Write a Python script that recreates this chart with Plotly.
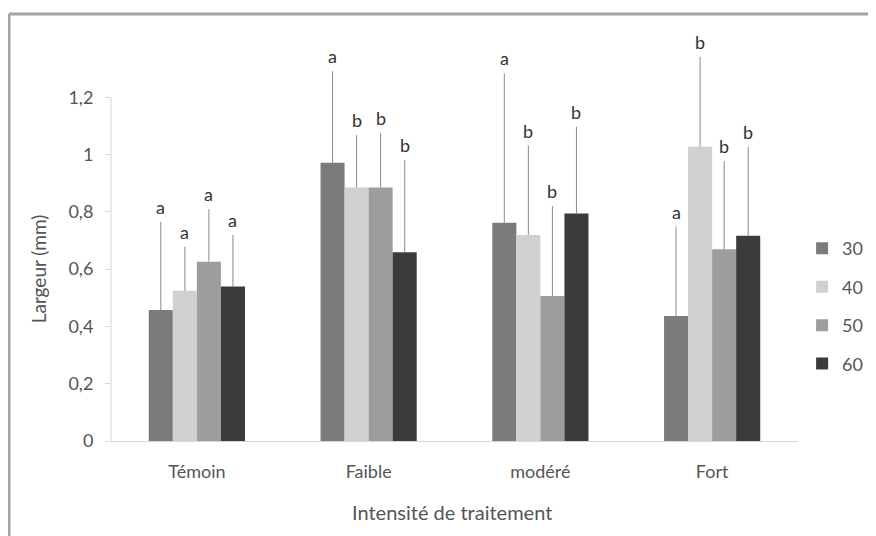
import plotly.graph_objects as go

categories = ["Témoin", "Faible", "modéré", "Fort"]
series_names = ["30", "40", "50", "60"]
values_30 = [0.457, 0.971, 0.762, 0.436]
values_40 = [0.524, 0.885, 0.719, 1.027]
values_50 = [0.626, 0.885, 0.506, 0.669]
values_60 = [0.539, 0.659, 0.794, 0.716]
err_30 = [0.308, 0.320, 0.521, 0.312]
err_40 = [0.154, 0.183, 0.312, 0.314]
err_50 = [0.183, 0.189, 0.314, 0.308]
err_60 = [0.180, 0.322, 0.303, 0.311]
letters_30 = ["a", "a", "a", "a"]
letters_40 = ["a", "b", "b", "b"]
letters_50 = ["a", "b", "b", "b"]
letters_60 = ["a", "b", "b", "b"]
y_tickvals = [0, 0.2, 0.4, 0.6, 0.8, 1.0, 1.2]
y_ticktext = ["0", "0,2", "0,4", "0,6", "0,8", "1", "1,2"]
x_title = "Intensité de traitement"
y_title = "Largeur (mm)"

values = [values_30, values_40, values_50, values_60]
errors = [err_30, err_40, err_50, err_60]
letters = [letters_30, letters_40, letters_50, letters_60]
colors = ["#7b7b7b", "#d0d0d0", "#9d9d9d", "#3b3b3b"]

BARGAP = 0.44
YMAX = 1.4485
FONT = "Lato, 'Open Sans', sans-serif"
TXT = "#555555"

fig = go.Figure()
for k, name in enumerate(series_names):
    fig.add_trace(go.Bar(
        x=categories, y=values[k], name=name,
        marker=dict(color=colors[k], line=dict(width=0)),
        legendgroup=name,
        error_y=dict(type="data", symmetric=False, array=errors[k],
                     arrayminus=[0] * len(categories), width=0,
                     thickness=1, color="#8a8a8a"),
    ))

n = len(series_names)
bw = (1 - BARGAP) / n
annotations = []
for k in range(n):
    for i, cat in enumerate(categories):
        annotations.append(dict(
            x=i + (k - (n - 1) / 2) * bw, y=values[k][i] + errors[k][i],
            xref="x", yref="y", text=letters[k][i], showarrow=False,
            yanchor="bottom", yshift=2,
            font=dict(family=FONT, size=18, color="#333333")))

annotations.append(dict(text=y_title, xref="paper", yref="paper",
                        x=-0.106, y=(max(y_tickvals) / 2) / YMAX, textangle=-90,
                        xanchor="center", yanchor="middle", showarrow=False,
                        font=dict(family=FONT, size=19, color=TXT)))
annotations.append(dict(text=x_title, xref="paper", yref="paper",
                        x=0.496, y=-0.171, xanchor="center", yanchor="middle",
                        showarrow=False,
                        font=dict(family=FONT, size=20, color=TXT)))

# chart border (open at right/bottom as cropped) and y-axis line up to last tick
shapes = [
    dict(type="line", xref="paper", yref="paper", x0=-0.1485, x1=1.3, y0=1.029, y1=1.029,
         line=dict(color="#a3a3a3", width=3)),
    dict(type="line", xref="paper", yref="paper", x0=-0.1485, x1=-0.1485, y0=1.029, y1=-0.4,
         line=dict(color="#a3a3a3", width=3)),
    dict(type="line", xref="paper", yref="y", x0=0, x1=0, y0=0, y1=max(y_tickvals),
         line=dict(color="#d6d6d6", width=1)),
]

fig.update_layout(
    width=876, height=536,
    margin=dict(l=103, r=86, t=18, b=103, autoexpand=False),
    paper_bgcolor="white", plot_bgcolor="white",
    barmode="group", bargap=BARGAP, bargroupgap=0,
    font=dict(family=FONT, color=TXT),
    annotations=annotations, shapes=shapes,
    legend=dict(x=1.006, y=0.325, xanchor="left", yanchor="middle",
                font=dict(size=18, color=TXT), tracegroupgap=12,
                bgcolor="rgba(0,0,0,0)"),
    xaxis=dict(showline=True, linecolor="#d6d6d6", linewidth=1, ticks="",
               ticklabelstandoff=14, automargin=False,
               tickfont=dict(size=18, color=TXT)),
    yaxis=dict(range=[0, YMAX], tickvals=y_tickvals, ticktext=y_ticktext,
               showgrid=False, zeroline=False, showline=False,
               ticks="outside", ticklen=5, tickcolor="#d6d6d6",
               ticklabelstandoff=8, automargin=False,
               tickfont=dict(size=18, color=TXT)),
)

fig.write_html("out.html")
